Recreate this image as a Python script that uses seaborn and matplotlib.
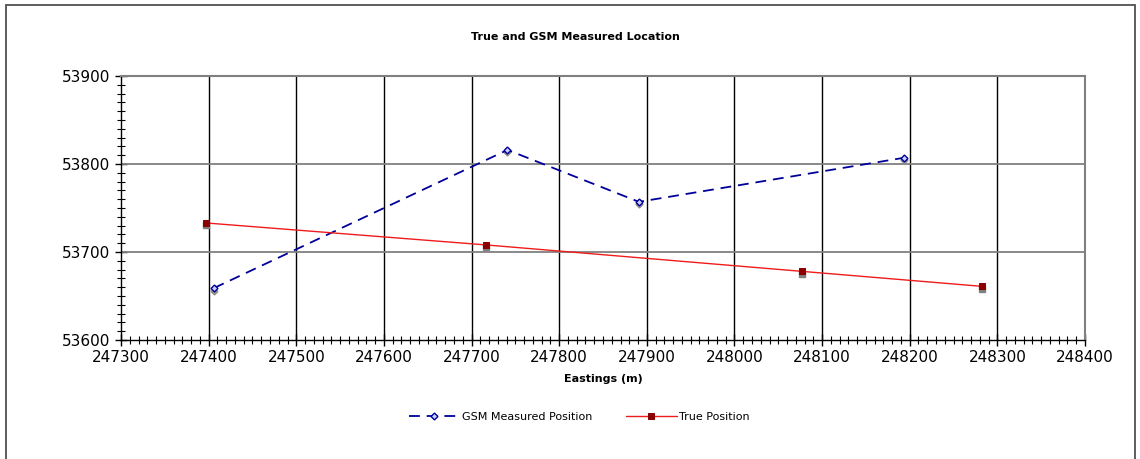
import matplotlib
matplotlib.use('Agg')
import matplotlib.pyplot as plt
import matplotlib.transforms as mtransforms
from matplotlib.patches import Rectangle
from matplotlib.ticker import MultipleLocator
import seaborn as sns
import pandas as pd

# Data
gsm_east = [247406, 247741, 247891, 248193]
gsm_north = [53659, 53816, 53757, 53807]
true_east = [247397, 247717, 248077, 248282]
true_north = [53733, 53708, 53678, 53661]

sns.set_theme(style="white")
plt.rcParams['font.family'] = ['DejaVu Sans']
plt.rcParams['text.color'] = 'black'
plt.rcParams['xtick.color'] = 'black'
plt.rcParams['ytick.color'] = 'black'
plt.rcParams['axes.labelcolor'] = 'black'

fig = plt.figure(figsize=(11.4, 4.59), dpi=100)
ax = fig.add_axes([121 / 1140, 1 - 340 / 459, (1085 - 121) / 1140, (340 - 76) / 459])

gsm = pd.DataFrame({'x': gsm_east, 'y': gsm_north})
true = pd.DataFrame({'x': true_east, 'y': true_north})

# gray marker shadows, offset slightly down
shadow = mtransforms.offset_copy(ax.transData, fig=fig, x=0, y=-2.5, units='dots')
ax.plot(gsm['x'], gsm['y'], ls='none', marker='D', ms=3.5, color='#909090', transform=shadow, zorder=3)
ax.plot(true['x'], true['y'], ls='none', marker='s', ms=4.5, color='#808080', transform=shadow, zorder=3)

sns.lineplot(data=gsm, x='x', y='y', sort=False, ax=ax, color='#000099', lw=1.3,
             dashes=False, linestyle=(0, (6, 3.8)), marker='D', markersize=3.5,
             markerfacecolor='#c8d0ff', markeredgecolor='#000099', markeredgewidth=1,
             label='GSM Measured Position', zorder=4)
sns.lineplot(data=true, x='x', y='y', sort=False, ax=ax, color='#ee1c1c', lw=1,
             marker='s', markersize=4.5, markerfacecolor='#8b0000',
             markeredgecolor='#8b0000', label='True Position', zorder=4)

ax.set_xlim(247300, 248400)
ax.set_ylim(53600, 53900)
ax.xaxis.set_major_locator(MultipleLocator(100))
ax.xaxis.set_minor_locator(MultipleLocator(10))
ax.yaxis.set_major_locator(MultipleLocator(100))
ax.yaxis.set_minor_locator(MultipleLocator(10))

ax.grid(False)
for xv in range(247400, 248400, 100):
    ax.axvline(xv, color='black', lw=1, zorder=1)
for yv in range(53700, 53900, 100):
    ax.axhline(yv, color='#808080', lw=1.3, zorder=1)

for s in ['top', 'right']:
    ax.spines[s].set_color('#808080')
    ax.spines[s].set_linewidth(1.5)
for s in ['left', 'bottom']:
    ax.spines[s].set_color('black')
    ax.spines[s].set_linewidth(1)

ax.tick_params(axis='both', which='major', direction='inout', length=9, width=1,
               color='black', labelcolor='black', labelsize=11, pad=3, left=True, bottom=True)
ax.tick_params(axis='both', which='minor', direction='inout', length=6, width=0.8,
               color='black', left=True, bottom=True)
ax.ticklabel_format(useOffset=False, style='plain')

ax.set_xlabel('Eastings (m)', fontsize=8, fontweight='bold', labelpad=6, color='black')
ax.set_ylabel('')
fig.text(0.505, 1 - 37 / 459, 'True and GSM Measured Location', ha='center', va='center',
         fontsize=8, fontweight='bold', color='black')

leg = ax.legend(loc='center', bbox_to_anchor=(0.508, 1 - 417 / 459), bbox_transform=fig.transFigure,
                ncol=2, frameon=False, fontsize=8, handlelength=4.6, handletextpad=0.2,
                columnspacing=3.0, labelcolor='black')

# chart area border
fig.patches.append(Rectangle((6 / 1140, -0.05), (1135 - 6) / 1140, 1.05 - 5 / 459,
                             transform=fig.transFigure, fill=False, edgecolor='#505050', lw=1.3))

fig.savefig('out.png', dpi=100)
